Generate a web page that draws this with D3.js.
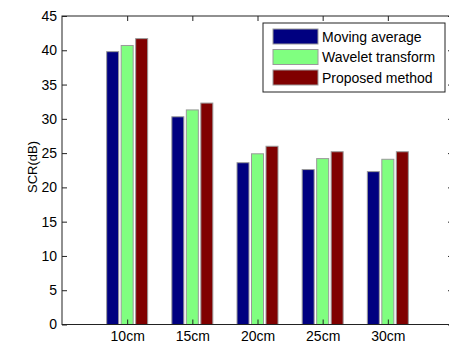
<!DOCTYPE html>
<html>
<head>
<meta charset="utf-8">
<script src="https://cdn.jsdelivr.net/npm/d3@7"></script>
<style>
  html, body { margin: 0; padding: 0; background: #fff; }
  svg { display: block; }
  text { font-family: "Liberation Sans", Arial, sans-serif; fill: #000; }
</style>
</head>
<body>
<svg id="chart" width="449" height="344"></svg>
<script>
// Distances (categories) and SCR per method, in dB
const categories = ["10cm", "15cm", "20cm", "25cm", "30cm"];
const seriesNames = ["Moving average", "Wavelet transform", "Proposed method"];
const movingAverage = [39.8, 30.3, 23.6, 22.6, 22.3];
const waveletTransform = [40.7, 31.3, 24.9, 24.2, 24.1];
const proposedMethod = [41.7, 32.3, 26.0, 25.2, 25.2];
const seriesColors = ["#000080", "#80ff80", "#800000"];
const yTicks = [0, 5, 10, 15, 20, 25, 30, 35, 40, 45];

const series = [movingAverage, waveletTransform, proposedMethod];

const svg = d3.select("#chart");
const plotL = 62, plotR = 453, plotT = 16, plotB = 324.5;
const fontStack = "Liberation Sans, Arial, sans-serif";

// Categories sit at 1..5 on a 0..6 axis
const x = d3.scaleLinear().domain([0, categories.length + 1]).range([plotL, plotR]);
const y = d3.scaleLinear().domain([0, 45]).range([plotB, plotT]);

const barW = 12, step = 14.5;

// Bars
series.forEach((vals, si) => {
  svg.append("g").selectAll("rect")
    .data(vals)
    .join("rect")
    .attr("x", (d, i) => x(i + 1) + (si - 1) * step - barW / 2)
    .attr("y", d => y(d))
    .attr("width", barW)
    .attr("height", d => y(0) - y(d))
    .attr("fill", seriesColors[si])
    .attr("stroke", "#9a9a9a")
    .attr("stroke-width", 1);
});

// Box frame
svg.append("rect")
  .attr("x", plotL).attr("y", plotT)
  .attr("width", plotR - plotL).attr("height", plotB - plotT)
  .attr("fill", "none").attr("stroke", "#222").attr("stroke-width", 1);

// Left axis with inward ticks
const yAxis = d3.axisLeft(y).tickValues(yTicks).tickSize(-5).tickPadding(5);
const gy = svg.append("g").attr("transform", `translate(${plotL},0)`).call(yAxis);
gy.select(".domain").remove();
gy.selectAll("line").attr("stroke", "#222");
gy.selectAll("text").style("font-size", "14px").style("font-family", fontStack);

// Right axis ticks (no labels)
const yAxisR = d3.axisRight(y).tickValues(yTicks).tickSize(-5).tickFormat("");
const gyr = svg.append("g").attr("transform", `translate(${plotR},0)`).call(yAxisR);
gyr.select(".domain").remove();
gyr.selectAll("line").attr("stroke", "#222");

// Bottom axis labels
const xAxis = d3.axisBottom(x).tickValues(d3.range(1, categories.length + 1))
  .tickFormat(d => categories[d - 1]).tickSize(-5).tickPadding(7);
const gx = svg.append("g").attr("transform", `translate(0,${plotB})`).call(xAxis);
gx.select(".domain").remove();
gx.selectAll("line").attr("stroke", "#222");
gx.selectAll("text").style("font-size", "14px").style("font-family", fontStack);

// Top axis ticks (no labels)
const xAxisT = d3.axisTop(x).tickValues(d3.range(1, categories.length + 1)).tickSize(-5).tickFormat("");
const gxt = svg.append("g").attr("transform", `translate(0,${plotT})`).call(xAxisT);
gxt.select(".domain").remove();
gxt.selectAll("line").attr("stroke", "#222");

// Y axis title
svg.append("text")
  .attr("transform", `translate(37,167) rotate(-90)`)
  .attr("text-anchor", "middle")
  .style("font-size", "13px")
  .text("SCR(dB)");

// Legend
const lg = svg.append("g").attr("transform", "translate(263,23)");
lg.append("rect").attr("width", 182).attr("height", 69)
  .attr("fill", "#fff").attr("stroke", "#222").attr("stroke-width", 1);
seriesNames.forEach((name, i) => {
  const row = lg.append("g").attr("transform", `translate(10,${6 + i * 20.5})`);
  row.append("rect").attr("width", 45).attr("height", 15)
    .attr("fill", seriesColors[i]).attr("stroke", "#9a9a9a");
  row.append("text").attr("x", 49).attr("y", 12.5)
    .style("font-size", "14px").text(name);
});
</script>
</body>
</html>
